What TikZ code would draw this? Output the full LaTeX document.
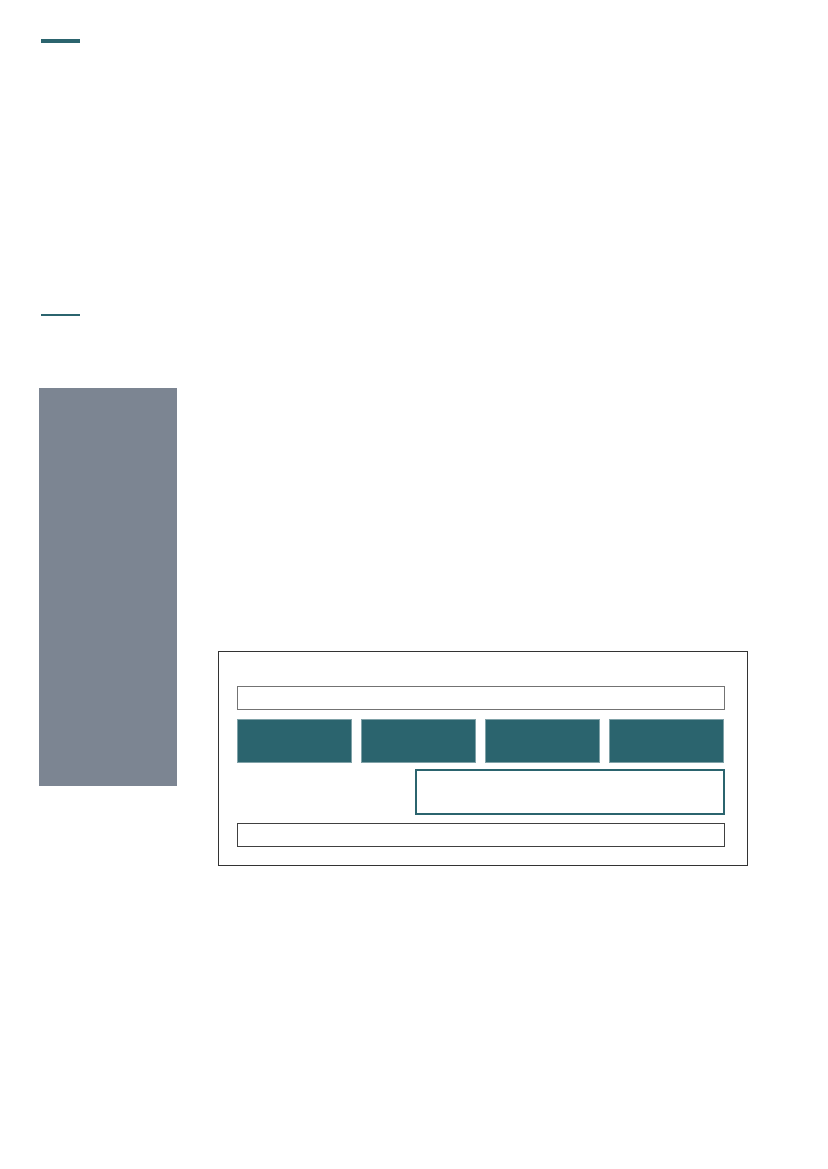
\documentclass[tikz,border=0pt]{standalone}
\usepackage{tikz}
\usetikzlibrary{positioning}

\definecolor{petrol}{HTML}{2B646E}
\definecolor{slate}{HTML}{7C8592}

\begin{document}
\begin{tikzpicture}[
            x=1pt,y=-1pt,
            box/.style={rectangle,inner sep=0,outer sep=0,anchor=north west},
            bar/.style={box,draw=black!55,line width=.9,minimum width=487,minimum height=23},
            block/.style={box,fill=petrol,draw=petrol!60,line width=.5,minimum width=114,minimum height=43},
            frame/.style={box,draw=petrol,line width=1.3,minimum width=308,minimum height=44},
            rule/.style={draw=petrol,line cap=butt}
          ]
          \useasboundingbox (0,0) rectangle (827,1169);
          %header rules
          \draw[rule,line width=3.5] (41,41) -- (80,41);
          \draw[rule,line width=2] (41,315) -- (80,315);

          %side panel
          \node[box,fill=slate,minimum width=138,minimum height=398] (side) at (39,388) {};

          %outer box
          \node[box,draw=black!80,line width=.9,minimum width=529,minimum height=214] (outer) at (218,651) {};

          %rows
          \node[bar] (top) at (237,686) {};
          \node[block] (b1) at (237,719) {};
          \node[block,right=10pt of b1] (b2) {};
          \node[block,right=10pt of b2] (b3) {};
          \node[block,right=10pt of b3] (b4) {};
          \node[frame] (mid) at (416,770) {};
          \node[bar,draw=black!75] (bottom) at (237,823) {};
      \end{tikzpicture}
\end{document}
